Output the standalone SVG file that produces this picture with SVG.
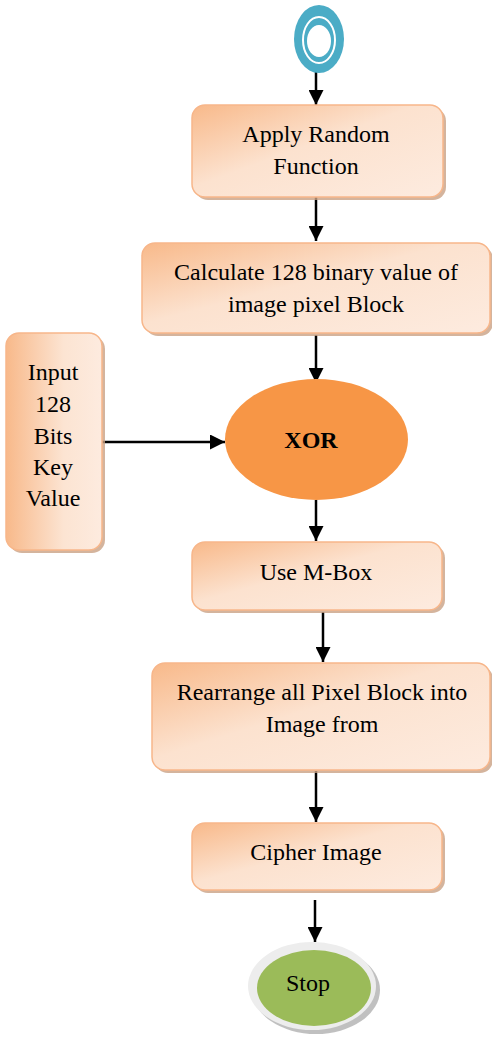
<svg xmlns="http://www.w3.org/2000/svg" width="492" height="1041" viewBox="0 0 492 1041">
  <defs>
    <linearGradient id="boxFill" x1="0" y1="0" x2="1" y2="1">
      <stop offset="0" stop-color="#F8B98A"/>
      <stop offset="0.45" stop-color="#FCE2CF"/>
      <stop offset="1" stop-color="#FDEBDF"/>
    </linearGradient>
    <linearGradient id="boxFillV" x1="0" y1="0" x2="1" y2="0">
      <stop offset="0" stop-color="#F8B98A"/>
      <stop offset="0.6" stop-color="#FCE4D2"/>
      <stop offset="1" stop-color="#FDEBDF"/>
    </linearGradient>
    <marker id="arrow" viewBox="0 0 10 10" refX="10" refY="5" markerWidth="6" markerHeight="6" markerUnits="strokeWidth" orient="auto">
      <path d="M0,0 L10,5 L0,10 z" fill="#000"/>
    </marker>
  </defs>
  <style>
    .shadow { fill: #C9A184; opacity: 0.8; }
    .box { fill: url(#boxFill); stroke: #F7B68A; stroke-width: 1.5; }
    .boxv { fill: url(#boxFillV); stroke: #F7B68A; stroke-width: 1.5; }
    .label { font-family: "Liberation Serif", "Times New Roman", serif; font-size: 24px; fill: #000; text-anchor: middle; dominant-baseline: central; }
    .conn { stroke: #000; stroke-width: 2.5; fill: none; marker-end: url(#arrow); }
  </style>

  <!-- connectors -->
  <g id="connectors">
    <line class="conn" x1="316" y1="72" x2="316" y2="105"/>
    <line class="conn" x1="316" y1="197" x2="316" y2="241"/>
    <line class="conn" x1="316" y1="335" x2="316" y2="383"/>
    <line class="conn" x1="101" y1="442" x2="225" y2="442"/>
    <line class="conn" x1="316" y1="500" x2="316" y2="541"/>
    <line class="conn" x1="323" y1="612" x2="323" y2="662"/>
    <line class="conn" x1="316" y1="771" x2="316" y2="822"/>
    <line class="conn" x1="315" y1="900" x2="315" y2="942"/>
  </g>

  <!-- start terminal -->
  <g id="start">
    <ellipse cx="319" cy="39" rx="25" ry="34" fill="#4BACC6"/>
    <ellipse cx="319" cy="40" rx="16" ry="23" fill="none" stroke="#fff" stroke-width="2"/>
    <ellipse cx="319" cy="41" rx="12" ry="16" fill="#fff"/>
  </g>

  <g id="apply-random">
    <rect class="shadow" x="195" y="108" width="251" height="92" rx="13"/>
    <rect class="box" x="192" y="105" width="251" height="92" rx="13"/>
    <text class="label" x="316" y="134">Apply Random</text>
    <text class="label" x="316" y="166">Function</text>
  </g>

  <g id="calculate">
    <rect class="shadow" x="145" y="246" width="348" height="90" rx="13"/>
    <rect class="box" x="142" y="243" width="348" height="90" rx="13"/>
    <text class="label" x="316" y="272">Calculate 128 binary value of</text>
    <text class="label" x="316" y="304">image pixel Block</text>
  </g>

  <g id="input-key">
    <rect class="shadow" x="9" y="336" width="96" height="217" rx="13"/>
    <rect class="boxv" x="6" y="333" width="96" height="217" rx="13"/>
    <text class="label" x="53" y="372">Input</text>
    <text class="label" x="53" y="404">128</text>
    <text class="label" x="53" y="436">Bits</text>
    <text class="label" x="53" y="467">Key</text>
    <text class="label" x="53" y="498">Value</text>
  </g>

  <g id="xor">
    <ellipse cx="316.5" cy="439.5" rx="91.5" ry="60.5" fill="#F79646"/>
    <text class="label" x="311" y="440" font-weight="bold">XOR</text>
  </g>

  <g id="m-box">
    <rect class="shadow" x="195" y="545" width="250" height="68" rx="13"/>
    <rect class="box" x="192" y="542" width="250" height="68" rx="13"/>
    <text class="label" x="316" y="572">Use M-Box</text>
  </g>

  <g id="rearrange">
    <rect class="shadow" x="155" y="666" width="338" height="107" rx="13"/>
    <rect class="box" x="152" y="663" width="338" height="107" rx="13"/>
    <text class="label" x="322" y="692">Rearrange all Pixel Block into</text>
    <text class="label" x="322" y="724">Image from</text>
  </g>

  <g id="cipher">
    <rect class="shadow" x="195" y="826" width="250" height="67" rx="13"/>
    <rect class="box" x="192" y="823" width="250" height="67" rx="13"/>
    <text class="label" x="316" y="852">Cipher Image</text>
  </g>

  <!-- stop terminal -->
  <g id="stop">
    <ellipse cx="316" cy="990" rx="64" ry="44" fill="#A5A5A5" opacity="0.7"/>
    <ellipse cx="312" cy="986" rx="64" ry="44" fill="#EDEDED"/>
    <ellipse cx="314" cy="988" rx="57" ry="38" fill="#9BBB59"/>
    <text class="label" x="308" y="983">Stop</text>
  </g>
</svg>
